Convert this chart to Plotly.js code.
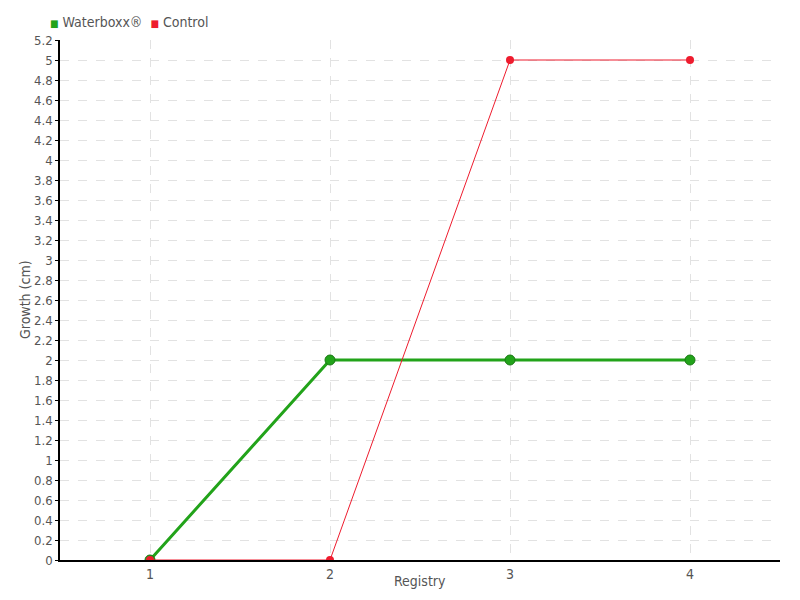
<!DOCTYPE html>
<html><head><meta charset="utf-8">
<script src="https://cdn.plot.ly/plotly-3.0.1.min.js"></script>
<style>body{margin:0;padding:0;background:#fff}#chart{width:800px;height:600px}</style>
</head><body><div id="chart"></div>
<script>
var registry = [1, 2, 3, 4];
var waterboxx = [0, 2, 2, 2];
var control = [0, 0, 5, 5];
var seriesNames = ['Waterboxx®', 'Control'];
var yTicks = [0,0.2,0.4,0.6,0.8,1,1.2,1.4,1.6,1.8,2,2.2,2.4,2.6,2.8,3,3.2,3.4,3.6,3.8,4,4.2,4.4,4.6,4.8,5,5.2];

var green = '#22a31a', red = '#ee1c2e';
var fontFam = '"Liberation Sans Narrow", "DejaVu Sans Condensed", sans-serif';

var data = [
  {x: registry, y: waterboxx, mode: 'lines+markers', name: seriesNames[0], showlegend: false,
   line: {color: green, width: 3}, marker: {color: green, size: 10, line: {color: '#1a7a14', width: 1}}},
  {x: registry, y: control, mode: 'lines+markers', name: seriesNames[1], showlegend: false,
   line: {color: red, width: 1}, marker: {color: red, size: 8}}
];

var legendText = '<span style="color:' + green + ';font-size:10px">■</span> ' + seriesNames[0] +
  '  <span style="color:' + red + ';font-size:10px">■</span> ' + seriesNames[1];

var layout = {
  width: 800, height: 600,
  margin: {l: 60, r: 20, t: 40, b: 40},
  paper_bgcolor: '#fff', plot_bgcolor: '#fff',
  font: {family: fontFam, size: 14, color: '#555'},
  showlegend: false,
  annotations: [
    {xref: 'paper', yref: 'paper', x: -0.0167, y: 1.0, xanchor: 'left', yanchor: 'middle', yshift: 18,
     showarrow: false, text: legendText, font: {family: fontFam, size: 14, color: '#555'}},
    {xref: 'paper', yref: 'paper', x: 0.5, y: 0, xanchor: 'center', yanchor: 'middle', yshift: -21,
     showarrow: false, text: 'Registry', font: {family: fontFam, size: 14, color: '#555'}},
    {xref: 'paper', yref: 'paper', x: 0, y: 0.5, xanchor: 'center', yanchor: 'middle', xshift: -35,
     textangle: -90, showarrow: false, text: 'Growth (cm)', font: {family: fontFam, size: 14, color: '#555'}}
  ],
  xaxis: {
    range: [0.5, 4.5], tickmode: 'array', tickvals: registry, ticktext: registry.map(String),
    showline: true, linecolor: '#000', linewidth: 1.5,
    ticks: '', ticklabelstandoff: 0,
    showgrid: true, gridcolor: '#e2e2e2', griddash: 'dash', zeroline: false,
    tickfont: {family: fontFam, size: 14, color: '#555'}
  },
  yaxis: {
    range: [0, 5.2], tickmode: 'array', tickvals: yTicks, ticktext: yTicks.map(String),
    showline: true, linecolor: '#000', linewidth: 1.5,
    ticks: 'outside', ticklen: 3, tickcolor: '#000', ticklabelstandoff: 0,
    showgrid: true, gridcolor: '#e2e2e2', griddash: 'dash', zeroline: false,
    tickfont: {family: fontFam, size: 13, color: '#555'}
  }
};
Plotly.newPlot('chart', data, layout, {displayModeBar: false});
</script></body></html>
